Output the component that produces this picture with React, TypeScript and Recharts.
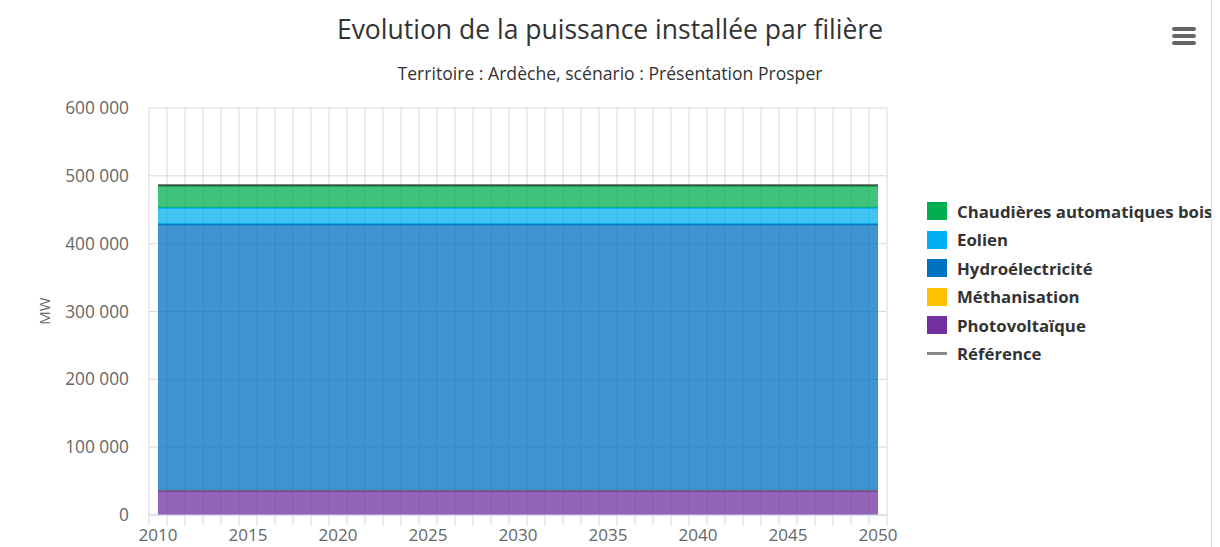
import { AreaChart, Area, Line, XAxis, YAxis, CartesianGrid } from "recharts";

const years = [
  2010, 2011, 2012, 2013, 2014, 2015, 2016, 2017, 2018, 2019, 2020, 2021, 2022, 2023,
  2024, 2025, 2026, 2027, 2028, 2029, 2030, 2031, 2032, 2033, 2034, 2035, 2036, 2037,
  2038, 2039, 2040, 2041, 2042, 2043, 2044, 2045, 2046, 2047, 2048, 2049, 2050,
];

// MW: every year looks identical
const photovoltaique = [
  35800, 35800, 35800, 35800, 35800, 35800, 35800, 35800, 35800, 35800, 35800, 35800, 35800, 35800,
  35800, 35800, 35800, 35800, 35800, 35800, 35800, 35800, 35800, 35800, 35800, 35800, 35800, 35800,
  35800, 35800, 35800, 35800, 35800, 35800, 35800, 35800, 35800, 35800, 35800, 35800, 35800,
];
const methanisation = [
  500, 500, 500, 500, 500, 500, 500, 500, 500, 500, 500, 500, 500, 500,
  500, 500, 500, 500, 500, 500, 500, 500, 500, 500, 500, 500, 500, 500,
  500, 500, 500, 500, 500, 500, 500, 500, 500, 500, 500, 500, 500,
];
const hydro = [
  392200, 392200, 392200, 392200, 392200, 392200, 392200, 392200, 392200, 392200, 392200, 392200, 392200, 392200,
  392200, 392200, 392200, 392200, 392200, 392200, 392200, 392200, 392200, 392200, 392200, 392200, 392200, 392200,
  392200, 392200, 392200, 392200, 392200, 392200, 392200, 392200, 392200, 392200, 392200, 392200, 392200,
];
const eolien = [
  24500, 24500, 24500, 24500, 24500, 24500, 24500, 24500, 24500, 24500, 24500, 24500, 24500, 24500,
  24500, 24500, 24500, 24500, 24500, 24500, 24500, 24500, 24500, 24500, 24500, 24500, 24500, 24500,
  24500, 24500, 24500, 24500, 24500, 24500, 24500, 24500, 24500, 24500, 24500, 24500, 24500,
];
const chaudieres = [
  32500, 32500, 32500, 32500, 32500, 32500, 32500, 32500, 32500, 32500, 32500, 32500, 32500, 32500,
  32500, 32500, 32500, 32500, 32500, 32500, 32500, 32500, 32500, 32500, 32500, 32500, 32500, 32500,
  32500, 32500, 32500, 32500, 32500, 32500, 32500, 32500, 32500, 32500, 32500, 32500, 32500,
];
const reference = [
  486000, 486000, 486000, 486000, 486000, 486000, 486000, 486000, 486000, 486000, 486000, 486000, 486000, 486000,
  486000, 486000, 486000, 486000, 486000, 486000, 486000, 486000, 486000, 486000, 486000, 486000, 486000, 486000,
  486000, 486000, 486000, 486000, 486000, 486000, 486000, 486000, 486000, 486000, 486000, 486000, 486000,
];

const yTicks = [0, 100000, 200000, 300000, 400000, 500000, 600000];

const series = [
  { key: "chaudieres", name: "Chaudières automatiques bois", color: "#00b050" },
  { key: "eolien", name: "Eolien", color: "#00b0f0" },
  { key: "hydro", name: "Hydroélectricité", color: "#0070c0" },
  { key: "methanisation", name: "Méthanisation", color: "#ffc000" },
  { key: "photovoltaique", name: "Photovoltaïque", color: "#7030a0" },
];

const data = years.map((y, i) => ({
  year: y,
  photovoltaique: photovoltaique[i],
  methanisation: methanisation[i],
  hydro: hydro[i],
  eolien: eolien[i],
  chaudieres: chaudieres[i],
  reference: reference[i],
}));

// category boundaries, so grid lines and tick marks sit between years
const boundaries = years.map((y) => y - 0.5).concat([years[years.length - 1] + 0.5]);

const FONT = "'Open Sans', 'DejaVu Sans', sans-serif";
const fmt = (v: number) => String(v).replace(/\B(?=(\d{3})+(?!\d))/g, " ");

const PLOT_W = 738;
const HALF = PLOT_W / years.length / 2;

function YearTick(props: any) {
  const { x, y, payload } = props;
  const yr = payload.value + 0.5;
  if (yr % 5 !== 0 || yr > 2050) return null;
  return (
    <text x={x + HALF} y={y + 14} textAnchor="middle" fill="#666" fontSize={17} fontFamily={FONT}>
      {yr}
    </text>
  );
}

export default function App() {
  return (
    <div style={{ position: "absolute", left: 0, top: 0, width: 1220, height: 547, background: "#fff", fontFamily: FONT }}>
      <div style={{ position: "absolute", left: 1211, top: 0, width: 1, height: 547, background: "#d8d8d8" }} />
      <div style={{ position: "absolute", left: 0, top: 11, width: 1220, textAlign: "center", fontSize: 26.5, color: "#333" }}>
        Evolution de la puissance installée par filière
      </div>
      <div style={{ position: "absolute", left: 0, top: 61, width: 1220, textAlign: "center", fontSize: 17.6, color: "#333" }}>
        Territoire : Ardèche, scénario : Présentation Prosper
      </div>
      <div style={{ position: "absolute", left: 1172, top: 27 }}>
        {[0, 7, 14].map((t) => (
          <div key={t} style={{ position: "absolute", top: t, width: 24, height: 4, borderRadius: 2, background: "#666" }} />
        ))}
      </div>
      <div
        style={{
          position: "absolute", left: 44, top: 311, transform: "translate(-50%, -50%) rotate(-90deg)",
          fontSize: 15, color: "#666", whiteSpace: "nowrap", zIndex: 2,
        }}
      >
        MW
      </div>
      <AreaChart
        width={1220}
        height={547}
        data={data}
        margin={{ top: 108, right: 333, left: 89, bottom: 2 }}
        style={{ position: "absolute", left: 0, top: 0 }}
      >
        <CartesianGrid stroke="#d8d8d8" vertical horizontal verticalValues={boundaries} />
        <XAxis
          dataKey="year"
          type="number"
          domain={[2009.5, 2050.5]}
          ticks={boundaries}
          interval={0}
          height={30}
          stroke="#ccd6eb"
          tickLine={{ stroke: "#ccd6eb" }}
          tickSize={10}
          tick={<YearTick />}
        />
        <YAxis
          type="number"
          domain={[0, 600000]}
          ticks={yTicks}
          width={60}
          axisLine={false}
          tickLine={false}
          tickFormatter={fmt}
          tick={{ fill: "#666", fontSize: 17.3, fontFamily: FONT, dx: -12 }}
        />
        {series.slice().reverse().map((s) => (
          <Area
            key={s.key}
            type="linear"
            dataKey={s.key}
            name={s.name}
            stackId="a"
            stroke={s.color}
            strokeWidth={s.key === "methanisation" ? 1 : 2}
            strokeOpacity={s.key === "methanisation" ? 0.45 : 1}
            fill={s.color}
            fillOpacity={0.75}
            isAnimationActive={false}
          />
        ))}
        <Line type="linear" dataKey="reference" stroke="#444" strokeOpacity={0.8} strokeWidth={2} dot={false} isAnimationActive={false} />
      </AreaChart>
      <div style={{ position: "absolute", left: 927, top: 200, width: 284, height: 170, overflow: "hidden", whiteSpace: "nowrap", zIndex: 2 }}>
        {series.map((s, i) => (
          <div key={s.key} style={{ position: "absolute", top: i * 28.5, left: 0, height: 22, display: "flex", alignItems: "center" }}>
            <span style={{ display: "inline-block", width: 20, height: 18, background: s.color, marginRight: 10 }} />
            <span style={{ fontSize: 16.8, fontWeight: 700, color: "#333" }}>{s.name}</span>
          </div>
        ))}
        <div style={{ position: "absolute", top: 5 * 28.5, left: 0, height: 22, display: "flex", alignItems: "center" }}>
          <span style={{ display: "inline-block", width: 20, height: 3, background: "#888", marginRight: 10 }} />
          <span style={{ fontSize: 16.8, fontWeight: 700, color: "#333" }}>Référence</span>
        </div>
      </div>
    </div>
  );
}
